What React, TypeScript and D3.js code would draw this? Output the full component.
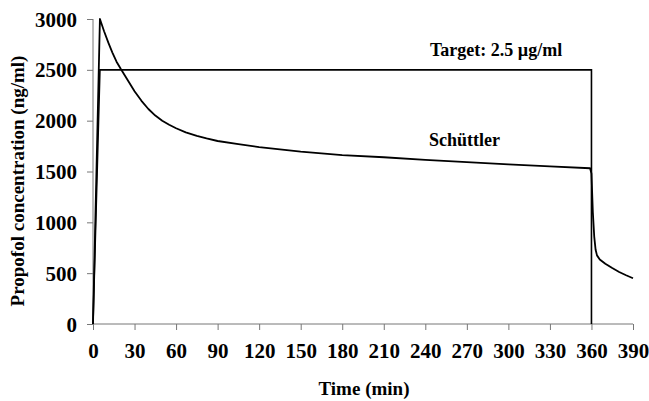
import * as d3 from 'd3'
import { useEffect } from 'react'

// Schüttler model prediction (ng/ml)
const schuttlerTime = [0, 5, 8, 11, 14, 17, 20, 25, 30, 35, 40, 45, 50, 55, 60, 67, 75, 82, 90, 105, 120, 150, 180, 210, 240, 270, 300, 330, 359, 360, 361, 362, 363, 364, 366, 370, 375, 380, 385, 390]
const schuttlerConc = [0, 3000, 2880, 2770, 2670, 2580, 2510, 2400, 2290, 2195, 2115, 2050, 2000, 1960, 1925, 1885, 1850, 1825, 1800, 1770, 1740, 1695, 1662, 1640, 1615, 1592, 1570, 1550, 1532, 1480, 1100, 860, 730, 675, 635, 592, 550, 512, 480, 450]

// target concentration
const targetTime = [0, 5, 360, 360]
const targetConc = [0, 2500, 2500, 0]

const xTicks = [0, 30, 60, 90, 120, 150, 180, 210, 240, 270, 300, 330, 360, 390]
const yTicks = [0, 500, 1000, 1500, 2000, 2500, 3000]

const WIDTH = 649
const HEIGHT = 401
const FONT = '"Liberation Serif", "Times New Roman", serif'

export default function App() {
  useEffect(() => {
    document.body.style.margin = '0'
    drawChart()
  }, [])

  return <div id="chart-area"></div>
}

const drawChart = () => {
  d3.select('#chart-area').selectAll('*').remove()

  const x = d3.scaleLinear().domain([0, 390]).range([93, 633])
  const y = d3.scaleLinear().domain([0, 3000]).range([324, 19])

  const svg = d3.select('#chart-area').append('svg')
    .attr('width', WIDTH)
    .attr('height', HEIGHT)
    .style('display', 'block')
    .style('background', '#fff')

  // y axis
  const yAxis = svg.append('g')
    .attr('transform', `translate(${x(0)},0)`)
    .call(d3.axisLeft(y).tickValues(yTicks).tickSize(6).tickPadding(10).tickFormat(d3.format('d')))
  yAxis.selectAll('.domain').attr('stroke', '#777').attr('d', `M0,${y(0)}V${y(3000)}`)
  yAxis.selectAll('.tick line').attr('stroke', '#777')
  yAxis.selectAll('text')
    .attr('font-family', FONT)
    .attr('font-weight', 'bold')
    .attr('font-size', 21)
    .attr('fill', '#000')
    .attr('dy', '0.34em')

  // x axis
  const xAxis = svg.append('g')
    .attr('transform', `translate(0,${y(0)})`)
    .call(d3.axisBottom(x).tickValues(xTicks).tickSize(6).tickPadding(13))
  xAxis.selectAll('.domain').attr('stroke', '#777').attr('d', `M${x(0)},0H${x(390)}`)
  xAxis.selectAll('.tick line').attr('stroke', '#777')
  xAxis.selectAll('text')
    .attr('font-family', FONT)
    .attr('font-weight', 'bold')
    .attr('font-size', 21)
    .attr('fill', '#000')

  const line = d3.line<number>()
    .x((d, i) => x(targetTime[i]))
    .y(d => y(d))

  svg.append('path')
    .attr('d', line(targetConc))
    .attr('fill', 'none')
    .attr('stroke', '#000')
    .attr('stroke-width', 1.6)

  const curve = d3.line<number>()
    .x((d, i) => x(schuttlerTime[i]))
    .y(d => y(d))

  svg.append('path')
    .attr('d', curve(schuttlerConc))
    .attr('fill', 'none')
    .attr('stroke', '#000')
    .attr('stroke-width', 1.8)
    .attr('stroke-linejoin', 'round')

  // labels
  svg.append('text')
    .attr('x', 430)
    .attr('y', 56)
    .attr('font-family', FONT)
    .attr('font-weight', 'bold')
    .attr('font-size', 18)
    .text('Target: 2.5 µg/ml')

  svg.append('text')
    .attr('x', 429)
    .attr('y', 146)
    .attr('font-family', FONT)
    .attr('font-weight', 'bold')
    .attr('font-size', 18)
    .text('Schüttler')

  svg.append('text')
    .attr('x', 364)
    .attr('y', 395)
    .attr('text-anchor', 'middle')
    .attr('font-family', FONT)
    .attr('font-weight', 'bold')
    .attr('font-size', 19)
    .text('Time (min)')

  svg.append('text')
    .attr('transform', 'translate(24,181) rotate(-90)')
    .attr('text-anchor', 'middle')
    .attr('font-family', FONT)
    .attr('font-weight', 'bold')
    .attr('font-size', 19)
    .text('Propofol concentration (ng/ml)')
}
